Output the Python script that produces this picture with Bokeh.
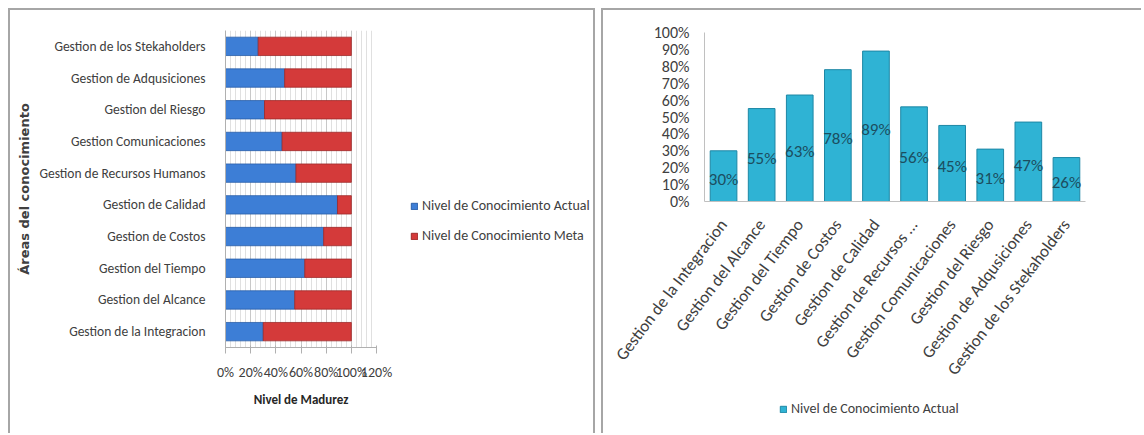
from bokeh.plotting import figure
from bokeh.models import (ColumnDataSource, NumeralTickFormatter, FixedTicker,
                          Legend, LegendItem)
from bokeh.core.properties import value
from bokeh.embed import file_html
from bokeh.resources import INLINE

# ---- data ----
areas = ["Gestion de la Integracion", "Gestion del Alcance", "Gestion del Tiempo",
         "Gestion de Costos", "Gestion de Calidad", "Gestion de Recursos Humanos",
         "Gestion Comunicaciones", "Gestion del Riesgo", "Gestion de Adqusiciones",
         "Gestion de los Stekaholders"]
areas_short = ["Gestion de la Integracion", "Gestion del Alcance", "Gestion del Tiempo",
               "Gestion de Costos", "Gestion de Calidad", "Gestion de Recursos ...",
               "Gestion Comunicaciones", "Gestion del Riesgo", "Gestion de Adqusiciones",
               "Gestion de los Stekaholders"]
actual = [0.30, 0.55, 0.63, 0.78, 0.89, 0.56, 0.45, 0.31, 0.47, 0.26]
meta = [0.70, 0.45, 0.37, 0.22, 0.11, 0.44, 0.55, 0.69, 0.53, 0.74]
actual_labels = ["30%", "55%", "63%", "78%", "89%", "56%", "45%", "31%", "47%", "26%"]
series_names = ["Nivel de Conocimiento Actual", "Nivel de Conocimiento Meta"]
x_ticks_left = [0, 0.2, 0.4, 0.6, 0.8, 1.0, 1.2]
y_ticks_right = [0, 0.1, 0.2, 0.3, 0.4, 0.5, 0.6, 0.7, 0.8, 0.9, 1.0]

FONT = "Carlito"
BLUE = "#3d7ed6"
RED = "#d43a3a"
TEAL = "#2fb3d4"
BORDER = "#a6a6a6"
TXT = "#404040"


def legend_figure(colors, edges, names, left, top, width, height):
    lf = figure(width=width, height=height, x_range=(0, 1), y_range=(0, 1),
                output_backend="svg", toolbar_location=None,
                min_border=0, min_border_left=0, min_border_right=0,
                min_border_top=0, min_border_bottom=0)
    lf.axis.visible = False
    lf.grid.grid_line_color = None
    lf.outline_line_color = None
    lf.background_fill_color = None
    lf.border_fill_color = None
    items = []
    for c, e, n in zip(colors, edges, names):
        r = lf.quad(left=[5], right=[6], bottom=[5], top=[6], fill_color=c, line_color=e)
        items.append(LegendItem(label=n, renderers=[r]))
    lg = Legend(items=items, location="top_left", spacing=13, padding=0, margin=0,
                border_line_color=None, background_fill_alpha=0,
                glyph_width=8, glyph_height=8, label_text_font=FONT,
                label_text_font_size="14px", label_text_color=TXT, label_standoff=4)
    lf.add_layout(lg)
    lf.styles = {"position": "absolute", "left": f"{left}px", "top": f"{top}px"}
    return lf


# ---- left chart: stacked horizontal bars ----
src1 = ColumnDataSource(dict(area=areas, actual=actual, meta=meta))
p1 = figure(width=587, height=425, y_range=areas, x_range=(0, 1.2),
            output_backend="svg", toolbar_location=None,
            min_border_left=215, min_border_right=221, min_border_top=20, min_border_bottom=88)
p1.hbar_stack(["actual", "meta"], y="area", height=0.58, source=src1,
              fill_color=[BLUE, RED], line_color=["#2a5ea8", "#9e2a2a"], line_width=0.8)
p1.xaxis.ticker = FixedTicker(ticks=x_ticks_left,
                              minor_ticks=[i * 0.04 for i in range(31)])
p1.xaxis.formatter = NumeralTickFormatter(format="0%")
p1.xgrid.grid_line_color = "#c8c8c8"
p1.xgrid.minor_grid_line_color = "#e0e0e0"
p1.ygrid.grid_line_color = None
p1.outline_line_color = None
p1.xaxis.axis_label = "Nivel de Madurez"
p1.yaxis.axis_label = "Áreas del conocimiento"
for ax in (p1.xaxis, p1.yaxis):
    ax.axis_line_color = "#b0b0b0"
    ax.major_tick_line_color = "#b0b0b0"
    ax.minor_tick_line_color = None
    ax.major_label_text_font = FONT
    ax.major_label_text_font_size = "14px"
    ax.major_label_text_color = TXT
p1.yaxis.major_label_text_font_size = "13.5px"
p1.yaxis.major_tick_line_color = None
p1.yaxis.major_label_standoff = 14
p1.xaxis.major_label_standoff = 10
p1.xaxis.axis_label_text_font = FONT
p1.xaxis.axis_label_text_font_style = "bold"
p1.xaxis.axis_label_text_font_size = "13px"
p1.xaxis.axis_label_text_color = "#262626"
p1.xaxis.axis_label_standoff = 8
p1.yaxis.axis_label_text_font = "DejaVu Sans"
p1.yaxis.axis_label_text_font_style = "bold"
p1.yaxis.axis_label_text_font_size = "13px"
p1.yaxis.axis_label_text_color = TXT
p1.yaxis.axis_label_standoff = 4
p1.styles = {"margin-left": "8px", "margin-top": "8px",
             "border-left": f"2px solid {BORDER}", "border-top": f"2px solid {BORDER}",
             "border-right": f"2px solid {BORDER}"}

# ---- right chart: vertical bars ----
src2 = ColumnDataSource(dict(area=areas_short, actual=actual,
                             mid=[a / 2 - 0.02 for a in actual], lab=actual_labels))
p2 = figure(width=540, height=425, x_range=areas_short, y_range=(0, 1.0),
            output_backend="svg", toolbar_location=None,
            min_border_left=101, min_border_right=58, min_border_top=22, min_border_bottom=234)
p2.vbar(x="area", top="actual", width=0.7, source=src2, fill_color=TEAL,
        line_color="#1d87a5", line_width=1)
p2.text(x="area", y="mid", text="lab", source=src2, text_align="center",
        text_baseline="middle", text_font=value(FONT), text_font_size="17px",
        text_color="#1c4e60")
p2.yaxis.ticker = FixedTicker(ticks=y_ticks_right)
p2.yaxis.formatter = NumeralTickFormatter(format="0%")
p2.xgrid.grid_line_color = None
p2.ygrid.grid_line_color = None
p2.outline_line_color = None
for ax in (p2.xaxis, p2.yaxis):
    ax.axis_line_color = "#c0c0c0"
    ax.major_tick_line_color = None
    ax.minor_tick_line_color = None
    ax.major_label_text_font = FONT
    ax.major_label_text_color = TXT
p2.yaxis.major_label_text_font_size = "16px"
p2.xaxis.major_label_text_font_size = "17px"
p2.yaxis.major_label_standoff = 9
p2.xaxis.major_label_orientation = 0.92
p2.xaxis.major_label_standoff = 14
p2.styles = {"position": "absolute", "left": "601px", "top": "8px",
             "border-left": f"2px solid {BORDER}", "border-top": f"2px solid {BORDER}"}

# ---- legends ----
leg1 = legend_figure([BLUE, RED], ["#2a5ea8", "#9e2a2a"], series_names, 410, 197, 180, 56)
leg2 = legend_figure([TEAL], ["#1d87a5"], series_names[:1], 779, 400, 185, 22)

open("out.html", "w").write(file_html([p1, p2, leg1, leg2], INLINE))
